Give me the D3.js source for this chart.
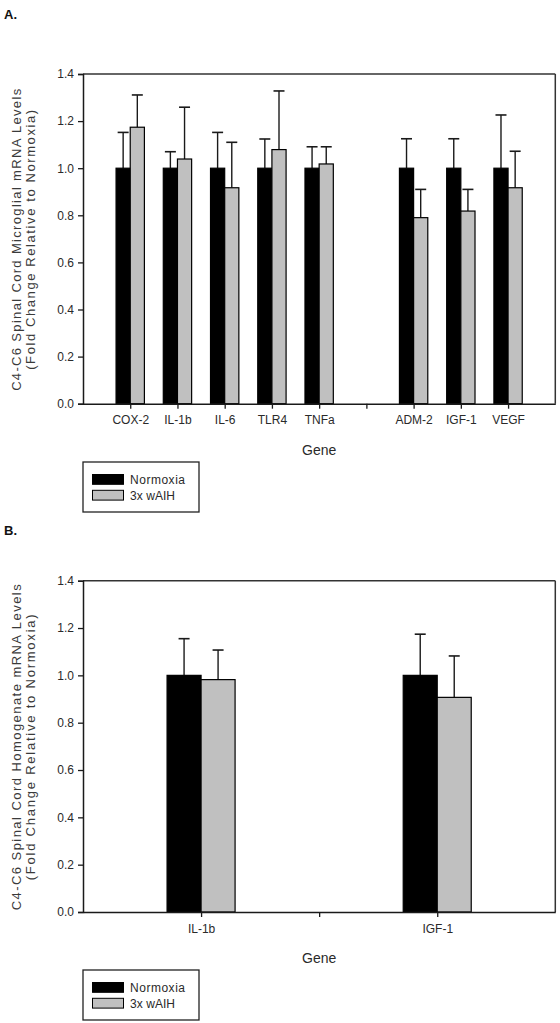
<!DOCTYPE html>
<html>
<head>
<meta charset="utf-8">
<script src="https://cdn.jsdelivr.net/npm/d3@7"></script>
<style>
  html, body { margin: 0; padding: 0; background: #fff; }
  svg { display: block; }
  text { font-family: Arial, "Liberation Sans", sans-serif; }
</style>
</head>
<body>
<svg id="chart" width="560" height="1023"></svg>
<script>
// ---------- Data ----------
const seriesNames = ["Normoxia", "3x wAIH"];
const yTicks = [0.0, 0.2, 0.4, 0.6, 0.8, 1.0, 1.2, 1.4];

// Panel A (blank slot "" is the gap between groups)
const genesA = ["COX-2", "IL-1b", "IL-6", "TLR4", "TNFa", "", "ADM-2", "IGF-1", "VEGF"];
const normoxiaA = [1.0, 1.0, 1.0, 1.0, 1.0, null, 1.0, 1.0, 1.0];
const normoxiaSemA = [0.152, 0.070, 0.152, 0.124, 0.091, null, 0.125, 0.125, 0.226];
const waihA = [1.174, 1.039, 0.917, 1.079, 1.018, null, 0.790, 0.818, 0.917];
const waihSemA = [0.137, 0.220, 0.193, 0.249, 0.073, null, 0.120, 0.092, 0.155];

// Panel B
const genesB = ["IL-1b", "", "IGF-1"];
const normoxiaB = [1.0, null, 1.0];
const normoxiaSemB = [0.155, null, 0.174];
const waihB = [0.982, null, 0.907];
const waihSemB = [0.125, null, 0.175];

// ---------- Drawing ----------
const svg = d3.select("#chart");
const colors = ["#000000", "#c0c0c0"];
const axisColor = "#1a1a1a";
const textColor = "#2a2a2a";

function panel(opts) {
  const { top, bottom, left, right, genes, s1, e1, s2, e2, barFrac, label1, label2,
          letter, letterY, legendTop, yLabelSpan1, yLabelSpan2 } = opts;
  const g = svg.append("g");

  const x = d3.scaleLinear().domain([0, genes.length + 1]).range([left, right]);
  const y = d3.scaleLinear().domain([0, 1.4]).range([bottom, top]);
  const unit = x(1) - x(0);
  const bw = unit * barFrac;

  // panel letter
  svg.append("text").attr("x", 4).attr("y", letterY)
    .attr("font-family", "'Liberation Serif', 'DejaVu Serif', serif")
    .attr("font-weight", "bold").attr("font-size", 13).attr("fill", "#111")
    .text(letter);

  // bars
  const data = genes.map((gname, i) => ({ i, gname, v: [s1[i], s2[i]], e: [e1[i], e2[i]] }))
    .filter(d => d.v[0] !== null);

  data.forEach(d => {
    [0, 1].forEach(k => {
      const cx = x(d.i + 1) + (k === 0 ? -bw / 2 : bw / 2);
      const topV = d.v[k] + d.e[k];
      // error bar (upper only)
      g.append("line")
        .attr("x1", cx).attr("x2", cx)
        .attr("y1", y(d.v[k])).attr("y2", y(topV))
        .attr("stroke", axisColor).attr("stroke-width", 1.4);
      g.append("line")
        .attr("x1", cx - 5.5).attr("x2", cx + 5.5)
        .attr("y1", y(topV)).attr("y2", y(topV))
        .attr("stroke", axisColor).attr("stroke-width", 1.6);
    });
    [0, 1].forEach(k => {
      const x0 = k === 0 ? x(d.i + 1) - bw : x(d.i + 1);
      g.append("rect")
        .attr("x", x0).attr("y", y(d.v[k]))
        .attr("width", bw).attr("height", y(0) - y(d.v[k]))
        .attr("fill", colors[k]).attr("stroke", "#000").attr("stroke-width", 1.2);
    });
  });

  // frame: top and right
  g.append("line").attr("x1", left).attr("x2", right).attr("y1", top).attr("y2", top)
    .attr("stroke", "#333").attr("stroke-width", 1.5);
  g.append("line").attr("x1", right).attr("x2", right).attr("y1", top).attr("y2", bottom)
    .attr("stroke", "#333").attr("stroke-width", 1.5);

  // y axis
  const yAxis = d3.axisLeft(y).tickValues(yTicks).tickFormat(d3.format(".1f"))
    .tickSize(5).tickPadding(4);
  const ya = g.append("g").attr("transform", `translate(${left},0)`).call(yAxis);
  ya.select(".domain").attr("stroke", axisColor).attr("stroke-width", 1.5);
  ya.selectAll(".tick line").attr("stroke", axisColor).attr("stroke-width", 1.3);
  ya.selectAll(".tick text").attr("font-size", 12).attr("fill", textColor)
    .attr("font-family", "Arial, 'Liberation Sans', sans-serif");

  // x axis
  const xAxis = d3.axisBottom(x).tickValues(genes.map((_, i) => i + 1))
    .tickFormat((d) => genes[d - 1]).tickSize(5).tickSizeOuter(0).tickPadding(7);
  const xa = g.append("g").attr("transform", `translate(0,${bottom})`).call(xAxis);
  xa.select(".domain").attr("stroke", axisColor).attr("stroke-width", 1.5);
  xa.selectAll(".tick line").attr("stroke", axisColor).attr("stroke-width", 1.3);
  xa.selectAll(".tick text").attr("font-size", 12).attr("fill", textColor)
    .attr("font-family", "Arial, 'Liberation Sans', sans-serif");

  // x title
  g.append("text").attr("x", (left + right) / 2).attr("y", bottom + 51)
    .attr("text-anchor", "middle").attr("font-size", 14).attr("fill", textColor)
    .text("Gene");

  // y title (two lines)
  const cy = (top + bottom) / 2;
  g.append("text").attr("transform", `translate(21,${cy + 1}) rotate(-90)`)
    .attr("text-anchor", "middle").attr("font-size", 13).attr("fill", "#3a3a3a")
    .attr("textLength", yLabelSpan1).attr("lengthAdjust", "spacing")
    .text(label1);
  g.append("text").attr("transform", `translate(35,${cy + 1}) rotate(-90)`)
    .attr("text-anchor", "middle").attr("font-size", 13).attr("fill", "#3a3a3a")
    .attr("textLength", yLabelSpan2).attr("lengthAdjust", "spacing")
    .text(label2);

  // legend
  const lg = g.append("g").attr("transform", `translate(83,${legendTop})`);
  lg.append("rect").attr("x", 0).attr("y", 0).attr("width", 116).attr("height", 50)
    .attr("fill", "#fff").attr("stroke", "#222").attr("stroke-width", 1.3);
  seriesNames.forEach((name, k) => {
    lg.append("rect").attr("x", 9.5).attr("y", 12.5 + k * 15.8).attr("width", 31).attr("height", 9.8)
      .attr("fill", colors[k]).attr("stroke", "#000").attr("stroke-width", 1);
    lg.append("text").attr("x", 47).attr("y", 22 + k * 15.8)
      .attr("font-size", 12).attr("fill", textColor)
      .attr("textLength", k === 0 ? 55 : 45).attr("lengthAdjust", "spacing")
      .text(name);
  });
}

panel({
  top: 74, bottom: 403.7, left: 83, right: 555.3,
  genes: genesA, s1: normoxiaA, e1: normoxiaSemA, s2: waihA, e2: waihSemA,
  barFrac: 0.3,
  label1: "C4-C6 Spinal Cord Microglial mRNA Levels",
  label2: "(Fold Change Relative to Normoxia)",
  letter: "A.", letterY: 19, legendTop: 462,
  yLabelSpan1: 302, yLabelSpan2: 260
});

panel({
  top: 580.7, bottom: 912, left: 83, right: 555.3,
  genes: genesB, s1: normoxiaB, e1: normoxiaSemB, s2: waihB, e2: waihSemB,
  barFrac: 0.288,
  label1: "C4-C6 Spinal Cord Homogenate mRNA Levels",
  label2: "(Fold Change Relative to Normoxia)",
  letter: "B.", letterY: 535, legendTop: 970,
  yLabelSpan1: 326, yLabelSpan2: 266
});
</script>
</body>
</html>
